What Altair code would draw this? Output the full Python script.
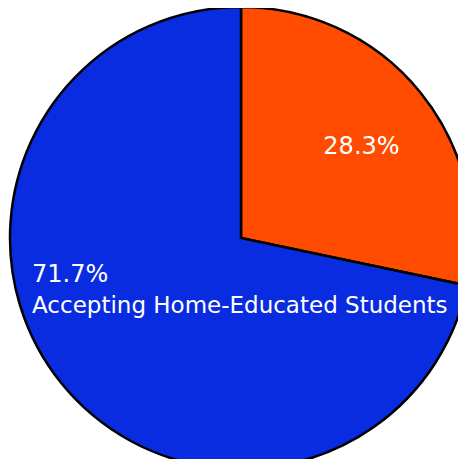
import altair as alt
import pandas as pd

categories = ["Not Accepting Home-Educated Students", "Accepting Home-Educated Students"]
shares = [28.3, 71.7]
percent_labels = ["28.3%", "71.7%"]
shown_names = ["", "Accepting Home-Educated Students"]
colors = ["#ff4c00", "#0a2ce0"]

df = pd.DataFrame({
    "category": categories,
    "share": shares,
    "order": list(range(len(categories))),
    "pct_center": [percent_labels[0], ""],
    "pct_left": ["", percent_labels[1]],
    "name": shown_names,
})

base = alt.Chart(df).encode(
    theta=alt.Theta("share:Q", stack=True),
    order=alt.Order("order:Q"),
    x=alt.value(233),
    y=alt.value(230),
)

arc = base.mark_arc(outerRadius=231, stroke="black", strokeWidth=2.5).encode(
    color=alt.Color("category:N", scale=alt.Scale(domain=categories, range=colors), legend=None)
)

txt_kw = dict(font="DejaVu Sans", color="white", radius=150)

t_center = base.mark_text(fontSize=24, align="center", baseline="middle", dx=4, dy=4, **txt_kw).encode(
    text="pct_center:N"
)
t_left = base.mark_text(fontSize=24, align="left", baseline="alphabetic", dx=-92.5, dy=-50.5, **txt_kw).encode(
    text="pct_left:N"
)
t_name = base.mark_text(fontSize=23, align="left", baseline="alphabetic", dx=-92.5, dy=-19.5, **txt_kw).encode(
    text="name:N"
)

chart = alt.layer(arc, t_center, t_left, t_name).properties(
    width=450, height=451, padding=0,
    autosize=alt.AutoSizeParams(type="none"),
).configure_view(stroke=None)

chart.save("out.html", embed_options={"renderer": "svg", "actions": False})
